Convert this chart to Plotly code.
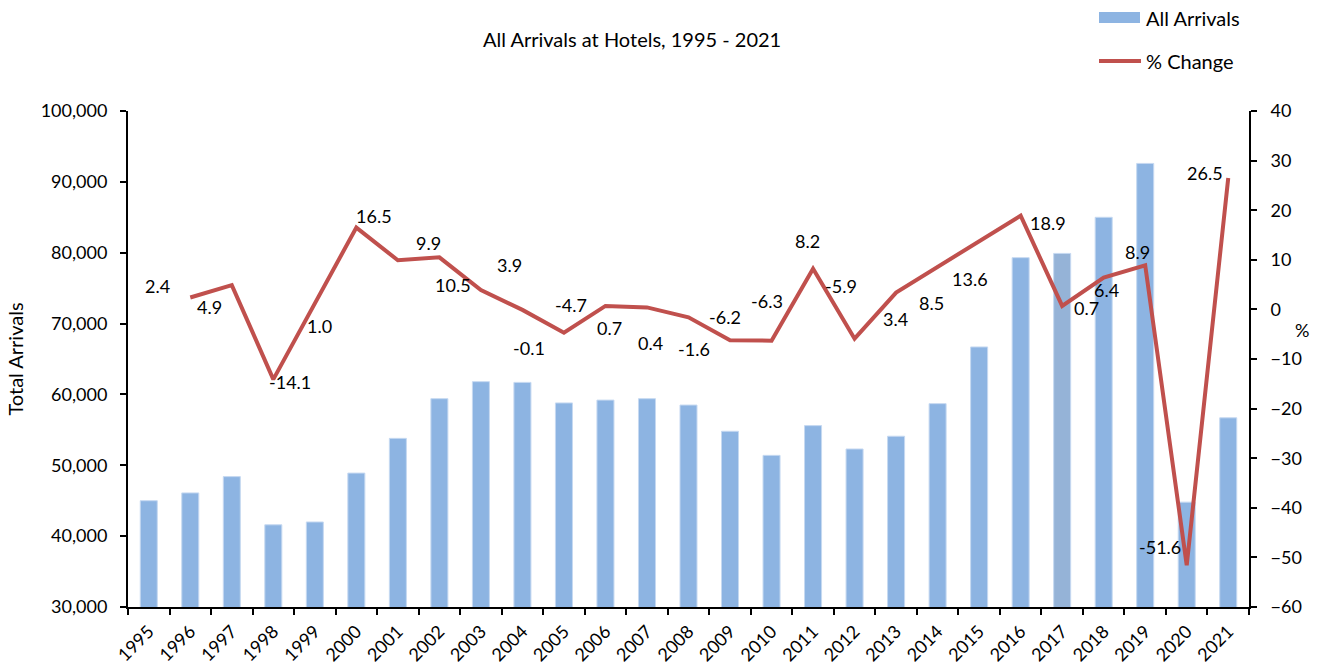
import plotly.graph_objects as go

years = [str(y) for y in range(1995, 2022)]
arrivals = [45000, 46100, 48400, 41600, 42000, 48900, 53800, 59400, 61800, 61700,
            58800, 59200, 59400, 58500, 54800, 51400, 55600, 52300, 54100, 58700,
            66700, 79300, 79900, 85000, 92600, 44800, 56700]
pct_years = years[1:]
pct_change = [2.4, 4.9, -14.1, 1.0, 16.5, 9.9, 10.5, 3.9, -0.1, -4.7, 0.7, 0.4, -1.6,
              -6.2, -6.3, 8.2, -5.9, 3.4, 8.5, 13.6, 18.9, 0.7, 6.4, 8.9, -51.6, 26.5]
left_ticks = [30000, 40000, 50000, 60000, 70000, 80000, 90000, 100000]
right_ticks = [-60, -50, -40, -30, -20, -10, 0, 10, 20, 30, 40]

# label offsets (pixels, x right / y down) relative to each line point
label_dx = [-33, -22, 17, 5, 18, 31, 14, 29, 7, 7, 4, 4, 5, -5, -5, -6, -14, -1, -6, -9, 27, 24, 3, -8, -27, -23]
label_dy = [-12, 22, 3, 22, -12, -17, 28, -25, 38, -28, 22, 36, 32, -23, -40, -28, -53, 26, 36, 37, 7, 2, 12, -13, -18, -5]

FONT = "Lato"
NUM = 18
TXT = 20
W, H = 1322, 670
L, R, T, B = 128, 1249, 111, 607  # plot area in page pixels

bar_colors = ["#8DB4E2"] * len(years)
bar_colors[years.index("2017")] = "#95B3D7"

fig = go.Figure()
fig.add_trace(go.Bar(x=years, y=arrivals, name="All Arrivals", marker_color=bar_colors,
                     marker_line=dict(color="#C6D9F1", width=1), width=0.41, yaxis="y",
                     showlegend=False))
fig.add_trace(go.Scatter(x=pct_years, y=pct_change, name="% Change", mode="lines",
                         line=dict(color="#C0504D", width=4), yaxis="y2", showlegend=False))

for yr, v, dx, dy in zip(pct_years, pct_change, label_dx, label_dy):
    fig.add_annotation(x=years.index(yr), y=v, xref="x", yref="y2", text=f"{v:.1f}", showarrow=False,
                       xanchor="center", yanchor="middle",
                       xshift=dx, yshift=-dy, font=dict(family=FONT, size=NUM, color="#000000"))

def px(xp):
    return (xp - L) / (R - L)

def py(yp):
    return (B - yp) / (B - T)

def note(x, y, text, xanchor="center", size=TXT):
    fig.add_annotation(x=px(x), y=py(y), xref="paper", yref="paper", text=text, showarrow=False,
                       xanchor=xanchor, yanchor="middle", font=dict(family=FONT, size=size, color="#000000"))

note(632, 39, "All Arrivals at Hotels, 1995 - 2021")
# custom legend
fig.add_shape(type="rect", xref="paper", yref="paper", x0=px(1099), x1=px(1140), y0=py(23), y1=py(12),
              fillcolor="#8DB4E2", line=dict(width=0))
fig.add_shape(type="line", xref="paper", yref="paper", x0=px(1099), x1=px(1141), y0=py(61), y1=py(61),
              line=dict(color="#C0504D", width=4))
note(1144, 18, "All Arrivals", xanchor="left")
note(1144, 61, "% Change", xanchor="left")
note(1302, 330, "%", size=NUM)

axis_common = dict(showgrid=False, zeroline=False, showline=True, linecolor="#000000", linewidth=2,
                   ticks="outside", ticklen=6, tickcolor="#000000", tickwidth=2,
                   tickfont=dict(family=FONT, size=NUM, color="#000000"))

fig.update_layout(
    width=W, height=H,
    margin=dict(l=L, r=W - R, t=T, b=H - B, autoexpand=False),
    paper_bgcolor="white", plot_bgcolor="white",
    xaxis=dict(type="category", tickangle=-45, tickson="boundaries", range=[-0.5, len(years) - 0.5],
               ticklabelstandoff=5, **axis_common),
    yaxis=dict(range=[30000, 100000], tickvals=left_ticks, tickformat=",d",
               title=dict(text="Total Arrivals", font=dict(family=FONT, size=TXT, color="#000000"), standoff=12),
               ticklabelstandoff=9, **axis_common),
    yaxis2=dict(range=[-60, 40], tickvals=right_ticks, overlaying="y", side="right",
                ticklabelstandoff=10, **axis_common),
    showlegend=False,
)

fig.write_html("out.html", config={"displayModeBar": False},
               post_script="document.body.style.margin='0';document.body.style.overflow='hidden';")
